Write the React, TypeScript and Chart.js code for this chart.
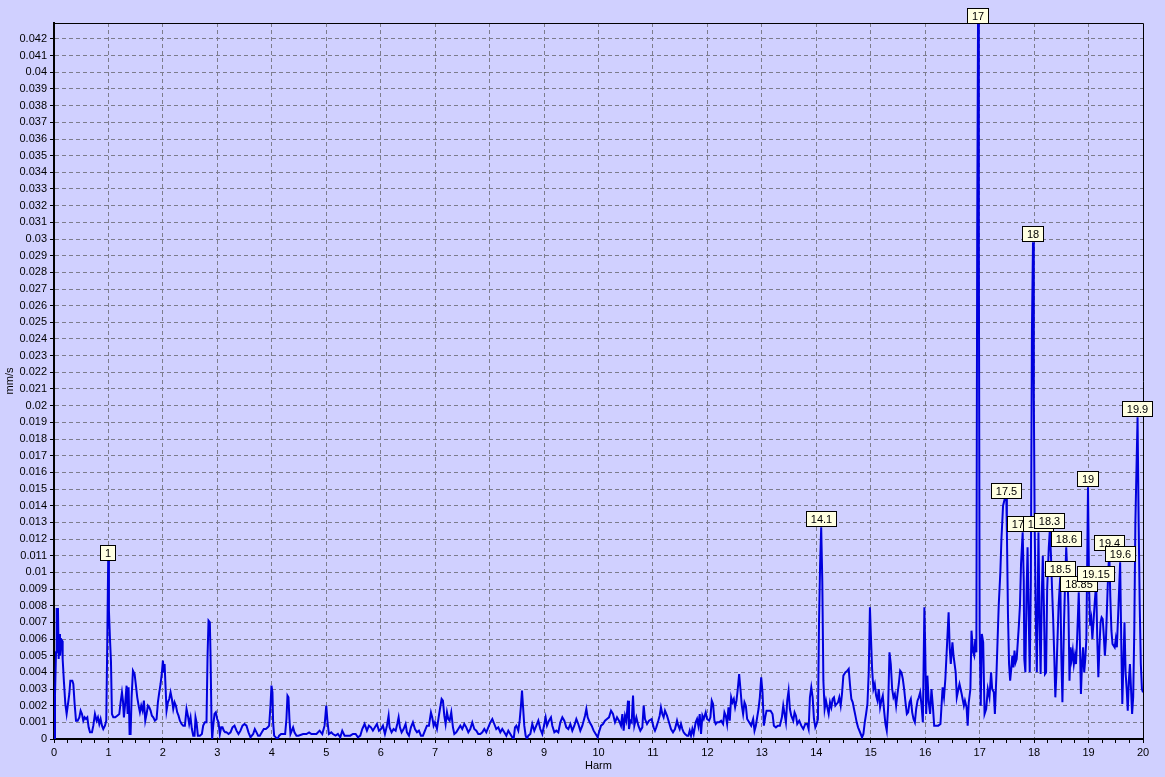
import React, { useEffect, useRef } from 'react';
import { Chart, registerables } from 'chart.js';

Chart.register(...registerables);

// Harmonic order (x) and amplitude in mm/s (y)
const HARM = [
  0, 0.018, 0.037, 0.049, 0.073, 0.086, 0.098, 0.11, 0.128, 0.147, 0.159, 0.183, 0.208, 0.232, 0.257, 0.281, 0.3, 0.336, 0.355, 0.379,
  0.404, 0.434, 0.465, 0.489, 0.514, 0.538, 0.563, 0.587, 0.612, 0.636, 0.661, 0.697, 0.722, 0.752, 0.783, 0.807, 0.832, 0.856, 0.881, 0.905,
  0.936, 0.96, 0.979, 0.995, 1.009, 1.028, 1.046, 1.064, 1.089, 1.125, 1.162, 1.199, 1.223, 1.248, 1.266, 1.284, 1.309, 1.333, 1.352, 1.37,
  1.388, 1.407, 1.425, 1.45, 1.48, 1.505, 1.529, 1.554, 1.578, 1.602, 1.627, 1.651, 1.676, 1.7, 1.725, 1.749, 1.774, 1.798, 1.823, 1.853,
  1.884, 1.908, 1.933, 1.957, 1.982, 2.0, 2.018, 2.031, 2.049, 2.067, 2.092, 2.116, 2.141, 2.165, 2.19, 2.214, 2.239, 2.263, 2.287, 2.312,
  2.343, 2.373, 2.404, 2.434, 2.459, 2.483, 2.508, 2.532, 2.557, 2.581, 2.599, 2.618, 2.642, 2.679, 2.716, 2.74, 2.771, 2.801, 2.82, 2.838,
  2.862, 2.875, 2.893, 2.905, 2.924, 2.948, 2.972, 2.997, 3.021, 3.046, 3.07, 3.095, 3.119, 3.144, 3.168, 3.205, 3.242, 3.278, 3.315, 3.352,
  3.388, 3.425, 3.462, 3.498, 3.535, 3.572, 3.609, 3.633, 3.658, 3.688, 3.719, 3.749, 3.78, 3.817, 3.853, 3.89, 3.927, 3.951, 3.976, 3.994,
  4.012, 4.024, 4.043, 4.073, 4.104, 4.135, 4.171, 4.208, 4.245, 4.269, 4.288, 4.306, 4.324, 4.343, 4.367, 4.391, 4.416, 4.453, 4.489, 4.575,
  4.636, 4.685, 4.728, 4.82,
  4.878, 4.927, 4.969, 5.0, 5.024, 5.049, 5.092, 5.122, 5.171, 5.214, 5.257, 5.294, 5.337, 5.398, 5.441, 5.49, 5.539, 5.582, 5.625, 5.661,
  5.704, 5.747, 5.784, 5.821, 5.857, 5.894, 5.931, 5.968, 6.004, 6.041, 6.078, 6.115, 6.145, 6.163, 6.2, 6.237, 6.274, 6.304, 6.329, 6.353,
  6.384, 6.421, 6.457, 6.482, 6.519, 6.555, 6.592, 6.629, 6.666, 6.702, 6.739, 6.776, 6.813, 6.849, 6.886, 6.923, 6.947, 6.972, 6.996, 7.033,
  7.064, 7.088, 7.119, 7.143, 7.168, 7.192, 7.217, 7.241, 7.266, 7.296, 7.327, 7.352, 7.388, 7.425, 7.462, 7.498, 7.535, 7.572, 7.609, 7.645,
  7.682, 7.719, 7.756, 7.792, 7.829, 7.866, 7.903, 7.939, 7.976, 8.013, 8.05, 8.086, 8.123, 8.16, 8.197, 8.233, 8.27, 8.307, 8.344, 8.38,
  8.417, 8.442, 8.466, 8.491, 8.527, 8.552, 8.576, 8.595, 8.613, 8.637, 8.662, 8.686, 8.711, 8.748, 8.784, 8.821, 8.858, 8.895, 8.931, 8.968,
  9.005, 9.029, 9.054, 9.091, 9.127, 9.152, 9.189, 9.225, 9.262, 9.299, 9.336, 9.372, 9.409, 9.446, 9.483, 9.519, 9.556, 9.593, 9.629, 9.666,
  9.703, 9.752, 9.777, 9.801, 9.838, 9.874, 9.911, 9.948, 9.985, 10.009, 10.046, 10.083, 10.119, 10.156, 10.193, 10.23, 10.266, 10.303, 10.34, 10.376,
  10.413, 10.438, 10.462, 10.487, 10.511, 10.542, 10.56, 10.585, 10.609, 10.634, 10.658, 10.695, 10.732, 10.768, 10.805, 10.83, 10.854, 10.891, 10.928,
  10.975, 11.012, 11.037, 11.061, 11.098, 11.123, 11.147, 11.172, 11.196, 11.221, 11.258, 11.294, 11.331, 11.368, 11.405, 11.442, 11.466, 11.491, 11.515, 11.54,
  11.564, 11.589, 11.626, 11.65, 11.675, 11.699, 11.724, 11.748, 11.785, 11.81, 11.834, 11.859, 11.883, 11.908, 11.933, 11.969, 11.994, 12.031, 12.055, 12.08,
  12.104, 12.129, 12.153, 12.178, 12.215, 12.252, 12.288, 12.313, 12.337, 12.362, 12.387, 12.411, 12.436, 12.46, 12.485, 12.509, 12.534, 12.558, 12.583, 12.607,
  12.632, 12.656, 12.681, 12.706, 12.73, 12.767, 12.804, 12.84, 12.865, 12.89, 12.914, 12.939, 12.963, 12.988, 13.012, 13.037, 13.061, 13.086, 13.123, 13.16,
  13.196, 13.221, 13.258, 13.294, 13.331, 13.368, 13.393, 13.417, 13.442, 13.466, 13.491, 13.515, 13.54, 13.577, 13.601, 13.626, 13.65, 13.687, 13.724, 13.761,
  13.798, 13.834, 13.859, 13.883, 13.908, 13.933, 13.957, 13.982, 14.006, 14.03, 14.05, 14.07, 14.09, 14.11, 14.13, 14.153, 14.178, 14.202, 14.227, 14.252,
  14.276, 14.301, 14.325, 14.35, 14.374, 14.399, 14.423, 14.448, 14.472, 14.497, 14.534, 14.571, 14.595, 14.62, 14.644, 14.669, 14.693, 14.718, 14.742, 14.767,
  14.791, 14.816, 14.84, 14.865, 14.89, 14.914, 14.939, 14.963, 14.985, 15.005, 15.025, 15.049, 15.074, 15.098, 15.123, 15.147, 15.172, 15.196, 15.221, 15.245,
  15.27, 15.294, 15.319, 15.344, 15.368, 15.393, 15.417, 15.442, 15.466, 15.491, 15.515, 15.54, 15.564, 15.589, 15.613, 15.638, 15.663, 15.687, 15.712, 15.736,
  15.761, 15.785, 15.81, 15.834, 15.859, 15.883, 15.908, 15.933, 15.957, 15.985, 16.0, 16.018, 16.04, 16.065, 16.09, 16.115, 16.14, 16.165, 16.2, 16.24,
  16.28, 16.3, 16.32, 16.345, 16.37, 16.43, 16.45, 16.47, 16.5, 16.52, 16.56, 16.58, 16.61, 16.63, 16.67, 16.71, 16.73, 16.76, 16.78, 16.8,
  16.83, 16.85, 16.88, 16.9, 16.92, 16.94, 16.955, 16.97, 16.985, 17.0, 17.02, 17.04, 17.065, 17.09, 17.12, 17.15, 17.18, 17.21, 17.23, 17.26,
  17.28, 17.31, 17.33, 17.35, 17.38, 17.4, 17.43, 17.46, 17.49, 17.5, 17.52, 17.54, 17.56, 17.58, 17.6, 17.62, 17.64, 17.66, 17.68, 17.7,
  17.72, 17.74, 17.76, 17.79, 17.81, 17.82, 17.84, 17.86, 17.88, 17.9, 17.92, 17.94, 17.96, 17.98, 17.995, 18.01, 18.03, 18.05, 18.07, 18.08,
  18.1, 18.12, 18.14, 18.16, 18.18, 18.2, 18.22, 18.24, 18.27, 18.29, 18.31, 18.33, 18.35, 18.37, 18.39, 18.41, 18.43, 18.45, 18.48, 18.5,
  18.52, 18.55, 18.57, 18.59, 18.61, 18.63, 18.65, 18.67, 18.69, 18.71, 18.73, 18.75, 18.77, 18.79, 18.82, 18.84, 18.86, 18.88, 18.9, 18.92,
  18.94, 18.96, 18.99, 19.01, 19.03, 19.05, 19.07, 19.09, 19.11, 19.14, 19.16, 19.18, 19.2, 19.22, 19.24, 19.26, 19.28, 19.3, 19.32, 19.35,
  19.38, 19.4, 19.42, 19.44, 19.46, 19.48, 19.5, 19.52, 19.55, 19.58, 19.6, 19.62, 19.64, 19.66, 19.68, 19.7, 19.72, 19.74, 19.76, 19.78,
  19.8, 19.82, 19.84, 19.86, 19.9, 19.92, 19.94, 19.96, 19.98, 20.0,
];

const AMP = [
  0, 0.0026, 0.0052, 0.0078, 0.0078, 0.0048, 0.0063, 0.005, 0.006, 0.0059, 0.0048, 0.0034, 0.0021, 0.0015, 0.0021, 0.0027, 0.0035, 0.0035, 0.0033, 0.0021,
  0.0011, 0.0011, 0.0013, 0.0017, 0.0015, 0.0011, 0.0013, 0.0012, 0.0013, 0.0007, 0.0004, 0.0004, 0.0008, 0.0015, 0.0011, 0.0013, 0.0009, 0.0012, 0.0008, 0.0006,
  0.0008, 0.0011, 0.006, 0.0107, 0.0077, 0.006, 0.0047, 0.0015, 0.0013, 0.0013, 0.0014, 0.0015, 0.0022, 0.0028, 0.0023, 0.0013, 0.0022, 0.0032, 0.0015, 0.0031,
  0.0003, 0.0003, 0.0025, 0.0041, 0.0039, 0.0032, 0.0025, 0.002, 0.0016, 0.002, 0.0017, 0.0023, 0.0011, 0.0015, 0.002, 0.0019, 0.0017, 0.0014, 0.0013, 0.0011,
  0.0012, 0.0022, 0.0028, 0.0033, 0.004, 0.0047, 0.004, 0.0045, 0.0031, 0.0017, 0.0022, 0.0024, 0.0028, 0.0024, 0.0018, 0.0022, 0.002, 0.0016, 0.0014, 0.0011,
  0.0009, 0.0008, 0.0008, 0.0018, 0.0014, 0.0009, 0.0013, 0.0006, 0.0002, 0.0002, 0.0013, 0.001, 0.0002, 0.0002, 0.0003, 0.0008, 0.001, 0.001, 0.005, 0.0071,
  0.007, 0.005, 0.001, 0.0, 0.0008, 0.0015, 0.0016, 0.0012, 0.001, 0.0003, 0.0007, 0.0007, 0.0005, 0.0004, 0.0004, 0.0003, 0.0004, 0.0007, 0.0008, 0.0005,
  0.0003, 0.0005, 0.0008, 0.0009, 0.0008, 0.0004, 0.0001, 0.0002, 0.0003, 0.0006, 0.0004, 0.0002, 0.0002, 0.0004, 0.0006, 0.0006, 0.0007, 0.0008, 0.002, 0.0032,
  0.0028, 0.001, 0.0002, 0.0001, 0.0, 0.0002, 0.0003, 0.0003, 0.0003, 0.0012, 0.0026, 0.0025, 0.0012, 0.0003, 0.0005, 0.0007, 0.0004, 0.0002, 0.0002, 0.0003,
  0.0003, 0.0004, 0.0003, 0.0003,
  0.0005, 0.0003, 0.0008, 0.002, 0.001, 0.0003, 0.0004, 0.0003, 0.0002, 0.0003, 0.0001, 0.0005, 0.0002, 0.0002, 0.0002, 0.0003, 0.0003, 0.0001, 0.0002, 0.0006,
  0.0009, 0.0005, 0.0008, 0.0007, 0.0005, 0.0007, 0.0009, 0.0005, 0.0006, 0.0008, 0.0003, 0.0008, 0.0014, 0.0007, 0.0004, 0.0006, 0.0005, 0.0009, 0.0013, 0.0007,
  0.0004, 0.0006, 0.0009, 0.0004, 0.0002, 0.0007, 0.001, 0.0006, 0.0004, 0.0005, 0.0002, 0.0002, 0.0005, 0.0008, 0.0008, 0.0016, 0.0013, 0.0008, 0.001, 0.0006,
  0.0013, 0.0018, 0.0024, 0.0023, 0.0014, 0.0009, 0.0016, 0.0012, 0.0011, 0.0016, 0.0007, 0.0003, 0.0004, 0.0006, 0.0008, 0.0006, 0.0009, 0.0007, 0.0004, 0.0006,
  0.001, 0.0006, 0.0005, 0.0003, 0.0003, 0.0004, 0.0006, 0.0004, 0.0007, 0.001, 0.0012, 0.0009, 0.0006, 0.0007, 0.0004, 0.0006, 0.0004, 0.0002, 0.0005, 0.0003,
  0.0001, 0.0, 0.0007, 0.0008, 0.0005, 0.0011, 0.002, 0.0029, 0.002, 0.0008, 0.0002, 0.0, 0.0002, 0.0003, 0.0009, 0.0005, 0.0008, 0.0011, 0.0006, 0.0003,
  0.0009, 0.0013, 0.0008, 0.0011, 0.0013, 0.0008, 0.0004, 0.0005, 0.0004, 0.001, 0.0013, 0.0011, 0.0007, 0.0006, 0.0009, 0.0005, 0.0008, 0.0012, 0.0009, 0.0005,
  0.0008, 0.0014, 0.0018, 0.0013, 0.001, 0.0008, 0.0005, 0.0003, 0.0001, 0.0004, 0.0008, 0.0009, 0.0011, 0.0012, 0.0013, 0.0017, 0.0015, 0.001, 0.0013, 0.0011,
  0.0008, 0.0015, 0.0005, 0.0014, 0.0011, 0.0023, 0.0006, 0.0011, 0.001, 0.0026, 0.0008, 0.0013, 0.0008, 0.0005, 0.0007, 0.002, 0.0012, 0.0009, 0.0011,
  0.0012, 0.0007, 0.0005, 0.0007, 0.0011, 0.0014, 0.0019, 0.0015, 0.0013, 0.0017, 0.0014, 0.001, 0.0006, 0.0004, 0.0006, 0.0011, 0.0008, 0.0006, 0.0009, 0.0006,
  0.0004, 0.0003, 0.0002, 0.0002, 0.0005, 0.0002, 0.0006, 0.0003, 0.001, 0.0012, 0.0008, 0.0015, 0.0003, 0.0014, 0.0012, 0.0016, 0.0012, 0.0011, 0.0013, 0.0023,
  0.0021, 0.0011, 0.0009, 0.001, 0.001, 0.0011, 0.0009, 0.0016, 0.0014, 0.0009, 0.0019, 0.0011, 0.0025, 0.0022, 0.0024, 0.0019, 0.0023, 0.003, 0.0039, 0.003,
  0.002, 0.0015, 0.0022, 0.002, 0.0012, 0.001, 0.0008, 0.0012, 0.0005, 0.0008, 0.0013, 0.0018, 0.0025, 0.0037, 0.0028, 0.0008, 0.0013, 0.0017, 0.0017, 0.0017,
  0.0015, 0.0008, 0.0007, 0.0008, 0.0008, 0.0013, 0.002, 0.0015, 0.001, 0.0023, 0.0029, 0.0018, 0.0014, 0.0011, 0.0016, 0.0014, 0.0009, 0.0011, 0.0008, 0.0006,
  0.0009, 0.0009, 0.0006, 0.0025, 0.0031, 0.0025, 0.0012, 0.0007, 0.0009, 0.0012, 0.007, 0.0105, 0.0127, 0.0095, 0.0035, 0.0018, 0.0023, 0.0019, 0.0015, 0.0022,
  0.0019, 0.0024, 0.0025, 0.002, 0.0021, 0.0022, 0.0025, 0.002, 0.0027, 0.0038, 0.004, 0.0041, 0.0042, 0.0032, 0.0024, 0.0022, 0.0018, 0.0014, 0.001, 0.0007,
  0.0005, 0.0003, 0.0001, 0.0003, 0.001, 0.0015, 0.0021, 0.004, 0.0079, 0.006, 0.0042, 0.003, 0.0033, 0.0026, 0.0023, 0.003, 0.0019, 0.0023, 0.0026, 0.0017,
  0.0009, 0.0005, 0.0019, 0.0052, 0.0045, 0.003, 0.0025, 0.0027, 0.002, 0.0027, 0.0033, 0.0041, 0.004, 0.0036, 0.003, 0.0022, 0.0015, 0.0016, 0.0022, 0.0024,
  0.0016, 0.0012, 0.001, 0.0018, 0.0023, 0.0025, 0.0028, 0.002, 0.001, 0.0079, 0.0055, 0.0015, 0.0038, 0.0022, 0.0015, 0.003, 0.002, 0.0008, 0.0008, 0.0008,
  0.0009, 0.002, 0.0031, 0.0025, 0.0036, 0.0076, 0.0055, 0.0045, 0.0058, 0.005, 0.004, 0.0025, 0.003, 0.0033, 0.0027, 0.002, 0.0023, 0.0019, 0.0008, 0.0022,
  0.003, 0.0065, 0.0052, 0.005, 0.006, 0.0052, 0.0302, 0.0429, 0.03, 0.0065, 0.002, 0.0063, 0.0058, 0.0015, 0.0018, 0.003, 0.0025, 0.004, 0.003, 0.0028,
  0.0015, 0.004, 0.006, 0.008, 0.01, 0.012, 0.014, 0.0144, 0.0144, 0.0125, 0.0075, 0.0045, 0.0035, 0.0042, 0.005, 0.0043, 0.0053, 0.0046, 0.0048, 0.0058,
  0.0068, 0.008, 0.0105, 0.0124, 0.0095, 0.0048, 0.004, 0.0085, 0.0115, 0.0075, 0.004, 0.0095, 0.0245, 0.0298, 0.0205, 0.013, 0.0075, 0.004, 0.0095, 0.0124,
  0.007, 0.0039, 0.0085, 0.011, 0.008, 0.0039, 0.004, 0.009, 0.0115, 0.0126, 0.011, 0.009, 0.0072, 0.005, 0.0025, 0.004, 0.006, 0.008, 0.0097, 0.005,
  0.0022, 0.007, 0.0095, 0.0115, 0.01, 0.008, 0.0035, 0.0055, 0.0048, 0.0053, 0.0045, 0.005, 0.0045, 0.006, 0.0088, 0.006, 0.0027, 0.0045, 0.0055, 0.004,
  0.0048, 0.006, 0.0151, 0.009, 0.0068, 0.0072, 0.006, 0.007, 0.008, 0.0094, 0.006, 0.0037, 0.0055, 0.007, 0.0073, 0.0072, 0.0062, 0.005, 0.006, 0.009,
  0.0113, 0.0085, 0.0065, 0.0057, 0.0056, 0.0055, 0.006, 0.0055, 0.008, 0.0106, 0.006, 0.0021, 0.0045, 0.007, 0.004, 0.003, 0.0017, 0.0035, 0.0045, 0.003,
  0.0015, 0.0025, 0.0065, 0.013, 0.0193, 0.013, 0.008, 0.0045, 0.003, 0.0028,
];

// Peak annotations (drawn left to right)
const PEAK_HARM = [0.995, 14.09, 16.97, 17.49, 17.79, 17.98, 18.08, 18.29, 18.48, 18.59, 18.82, 18.99, 19.14, 19.38, 19.58, 19.9];
const PEAK_AMP = [0.0107, 0.0127, 0.0429, 0.0144, 0.0124, 0.0298, 0.0124, 0.0126, 0.0097, 0.0115, 0.0088, 0.0151, 0.0094, 0.0113, 0.0106, 0.0193];
const PEAK_TEXT = ['1', '14.1', '17', '17.5', '17.8', '18', '18.1', '18.3', '18.5', '18.6', '18.85', '19', '19.15', '19.4', '19.6', '19.9'];

const X_TICK_LABELS = ['0', '1', '2', '3', '4', '5', '6', '7', '8', '9', '10', '11', '12', '13', '14', '15', '16', '17', '18', '19', '20'];
const Y_TICK_LABELS = [
  '0', '0.001', '0.002', '0.003', '0.004', '0.005', '0.006', '0.007', '0.008', '0.009',
  '0.01', '0.011', '0.012', '0.013', '0.014', '0.015', '0.016', '0.017', '0.018', '0.019',
  '0.02', '0.021', '0.022', '0.023', '0.024', '0.025', '0.026', '0.027', '0.028', '0.029',
  '0.03', '0.031', '0.032', '0.033', '0.034', '0.035', '0.036', '0.037', '0.038', '0.039',
  '0.04', '0.041', '0.042',
];

const X_TITLE = 'Harm';
const Y_TITLE = 'mm/s';

const BG = '#D0D0FF';
const FONT = '"Liberation Sans", Arial, sans-serif';
const GRID = '#7C7C8C';

const framePlugin = {
  id: 'frame',
  beforeDatasetsDraw(chart: any) {
    const { ctx, chartArea } = chart;
    ctx.save();
    ctx.setLineDash([]);
    ctx.strokeStyle = '#000';
    ctx.lineWidth = 1;
    ctx.beginPath();
    ctx.moveTo(chartArea.left, chartArea.top + 0.5);
    ctx.lineTo(chartArea.right + 0.5, chartArea.top + 0.5);
    ctx.lineTo(chartArea.right + 0.5, chartArea.bottom);
    ctx.stroke();
    ctx.restore();
  },
};

const peakLabelPlugin = {
  id: 'peakLabels',
  afterDatasetsDraw(chart: any) {
    const { ctx } = chart;
    const xs = chart.scales.x;
    const ys = chart.scales.y;
    ctx.save();
    ctx.setLineDash([]);
    ctx.font = '11px ' + FONT;
    ctx.textAlign = 'center';
    ctx.textBaseline = 'middle';
    ctx.lineWidth = 1;
    PEAK_TEXT.forEach((t, i) => {
      const px = xs.getPixelForValue(PEAK_HARM[i]);
      const py = Math.round(ys.getPixelForValue(PEAK_AMP[i]));
      const w = Math.round(ctx.measureText(t).width + 10);
      const h = 16;
      const left = Math.round(px - w / 2);
      const top = py - h;
      ctx.fillStyle = '#FFFFE1';
      ctx.fillRect(left, top, w, h);
      ctx.strokeStyle = '#000';
      ctx.strokeRect(left + 0.5, top + 0.5, w - 1, h - 1);
      ctx.fillStyle = '#000';
      ctx.fillText(t, left + w / 2, top + h / 2 + 0.5);
    });
    ctx.restore();
  },
};

export default function App() {
  const ref = useRef<HTMLCanvasElement | null>(null);

  useEffect(() => {
    const canvas = ref.current;
    if (!canvas) return;
    const chart = new Chart(canvas, {
      type: 'line',
      data: {
        datasets: [
          {
            data: HARM.map((h, i) => ({ x: h, y: AMP[i] })),
            borderColor: '#0000DD',
            borderWidth: 2,
            pointRadius: 0,
            tension: 0,
            fill: false,
          },
        ],
      },
      options: {
        animation: false,
        responsive: true,
        maintainAspectRatio: false,
        events: [],
        layout: { padding: { left: 0, top: 23, right: 22, bottom: 0 } },
        plugins: {
          legend: { display: false },
          tooltip: { enabled: false },
          title: { display: false },
        },
        scales: {
          x: {
            type: 'linear',
            min: 0,
            max: 20,
            afterFit: (s: any) => {
              s.height = 38;
            },
            afterBuildTicks: (s: any) => {
              const t: any[] = [];
              X_TICK_LABELS.forEach((lab, i) => {
                t.push({ value: i });
                if (i < X_TICK_LABELS.length - 1) {
                  t.push({ value: i + 0.25 }, { value: i + 0.5 }, { value: i + 0.75 });
                }
              });
              s.ticks = t;
            },
            ticks: {
              autoSkip: false,
              maxRotation: 0,
              padding: 3,
              color: '#000',
              font: { family: FONT, size: 11 },
              callback: (v: any) => (Number.isInteger(v) ? X_TICK_LABELS[v] : ''),
            },
            grid: {
              color: (c: any) =>
                c.tick && Number.isInteger(c.tick.value) && c.tick.value > 0 && c.tick.value < 20 ? GRID : 'rgba(0,0,0,0)',
              lineWidth: 1,
              drawTicks: true,
              tickLength: 4,
              tickColor: '#000',
              tickWidth: 1,
              tickBorderDash: [],
            },
            border: { display: true, color: '#000', width: 2, dash: [4, 3] },
            title: {
              display: true,
              text: X_TITLE,
              color: '#000',
              font: { family: FONT, size: 11 },
              padding: { top: 0, bottom: 4 },
            },
          },
          y: {
            type: 'linear',
            min: 0,
            max: 0.04296,
            afterFit: (s: any) => {
              s.width = 54;
            },
            afterBuildTicks: (s: any) => {
              s.ticks = Y_TICK_LABELS.map((l) => ({ value: parseFloat(l) }));
            },
            ticks: {
              autoSkip: false,
              padding: 3,
              color: '#000',
              font: { family: FONT, size: 11 },
              callback: (v: any, i: number) => Y_TICK_LABELS[i],
            },
            grid: {
              color: (c: any) => (c.tick && c.tick.value > 0 ? GRID : 'rgba(0,0,0,0)'),
              lineWidth: 1,
              drawTicks: true,
              tickLength: 4,
              tickColor: '#000',
              tickWidth: 1,
              tickBorderDash: [],
            },
            border: { display: true, color: '#000', width: 2, dash: [4, 3] },
            title: {
              display: true,
              text: Y_TITLE,
              color: '#000',
              font: { family: FONT, size: 11 },
              padding: { top: 3, bottom: 0 },
            },
          },
        },
      },
      plugins: [framePlugin, peakLabelPlugin],
    });
    return () => chart.destroy();
  }, []);

  return (
    <div
      style={{
        position: 'fixed',
        left: 0,
        top: 0,
        width: 1165,
        height: 777,
        background: BG,
      }}
    >
      <canvas ref={ref} />
    </div>
  );
}
